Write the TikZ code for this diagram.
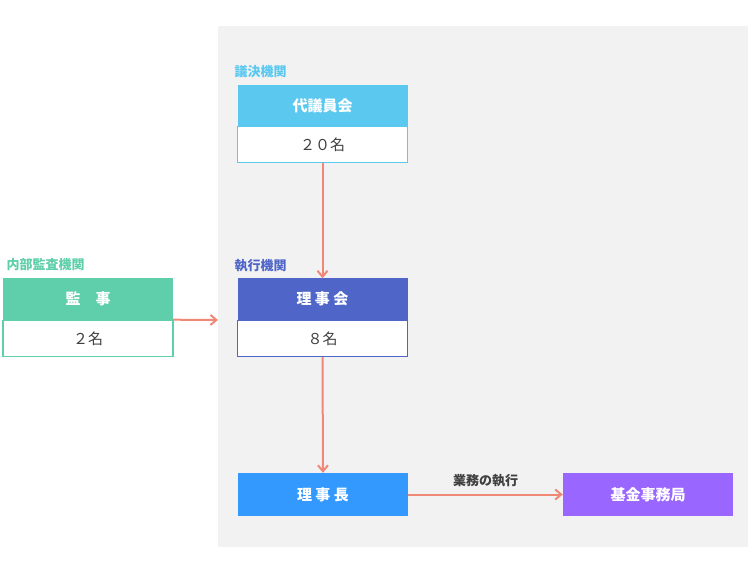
\documentclass[tikz,border=0pt]{standalone}
\usepackage{fontspec}
\setmainfont{Noto Sans CJK JP}
\usetikzlibrary{arrows.meta}
\definecolor{lblue}{HTML}{5BC8F0}
\definecolor{dblue}{HTML}{4F66C8}
\definecolor{green}{HTML}{5ECFAA}
\definecolor{mblue}{HTML}{3399FF}
\definecolor{purp}{HTML}{9966FF}
\definecolor{arr}{HTML}{F08878}
\definecolor{bg}{HTML}{F2F2F2}
\begin{document}
\begin{tikzpicture}[x=1pt,y=-1pt,
  head/.style={minimum width=170pt,minimum height=41pt,inner sep=0pt,text=white,font=\bfseries\fontsize{15}{15}\selectfont},
  body/.style={draw=#1,line width=1.2pt,fill=white,minimum width=170pt,minimum height=36pt,inner sep=0pt,font=\fontsize{15}{15}\selectfont,text=black!75},
  lab/.style={anchor=west,font=\bfseries\fontsize{13}{13}\selectfont},
  con/.style={draw=arr,line width=2pt,-{Straight Barb[length=6pt,width=10pt]}}]
\useasboundingbox (0,0) rectangle (756,567);
\fill[bg] (218,26) rectangle (748,547);
% 代議員会
\node[head,fill=lblue] (h1) at (322.5,105.5) {代議員会};
\node[body=lblue,anchor=north] (b1) at (h1.south) {２０名};
\node[lab,text=lblue] (l1) at (231,72) {議決機関};
% 理事会
\node[head,fill=dblue] (h2) at (322.5,299) {理 事 会};
\node[body=dblue,anchor=north] (b2) at (h2.south) {８名};
\node[lab,text=dblue] (l2) at (231,266) {執行機関};
% 監事
\node[head,fill=green] (h3) at (88,299) {監　事};
\node[body=green,anchor=north] (b3) at (h3.south) {２名};
\node[lab,text=green] (l3) at (3,265) {内部監査機関};
% 理事長, 基金事務局
\node[head,fill=mblue,minimum height=43pt] (r) at (323,494.5) {理 事 長};
\node[head,fill=purp,minimum height=43pt] (k) at (648,494.5) {基金事務局};
\coordinate (c3) at (218,320);
\draw[con] (b1.south) -- (h2.north);
\draw[con] (b2.south) -- (r.north);
\draw[con] (h3.south east) -- (c3);
\draw[con] (r.east) -- node[above=3pt,text=black!75,font=\bfseries\fontsize{13}{13}\selectfont]{業務の執行} (k.west);
\end{tikzpicture}
\end{document}
